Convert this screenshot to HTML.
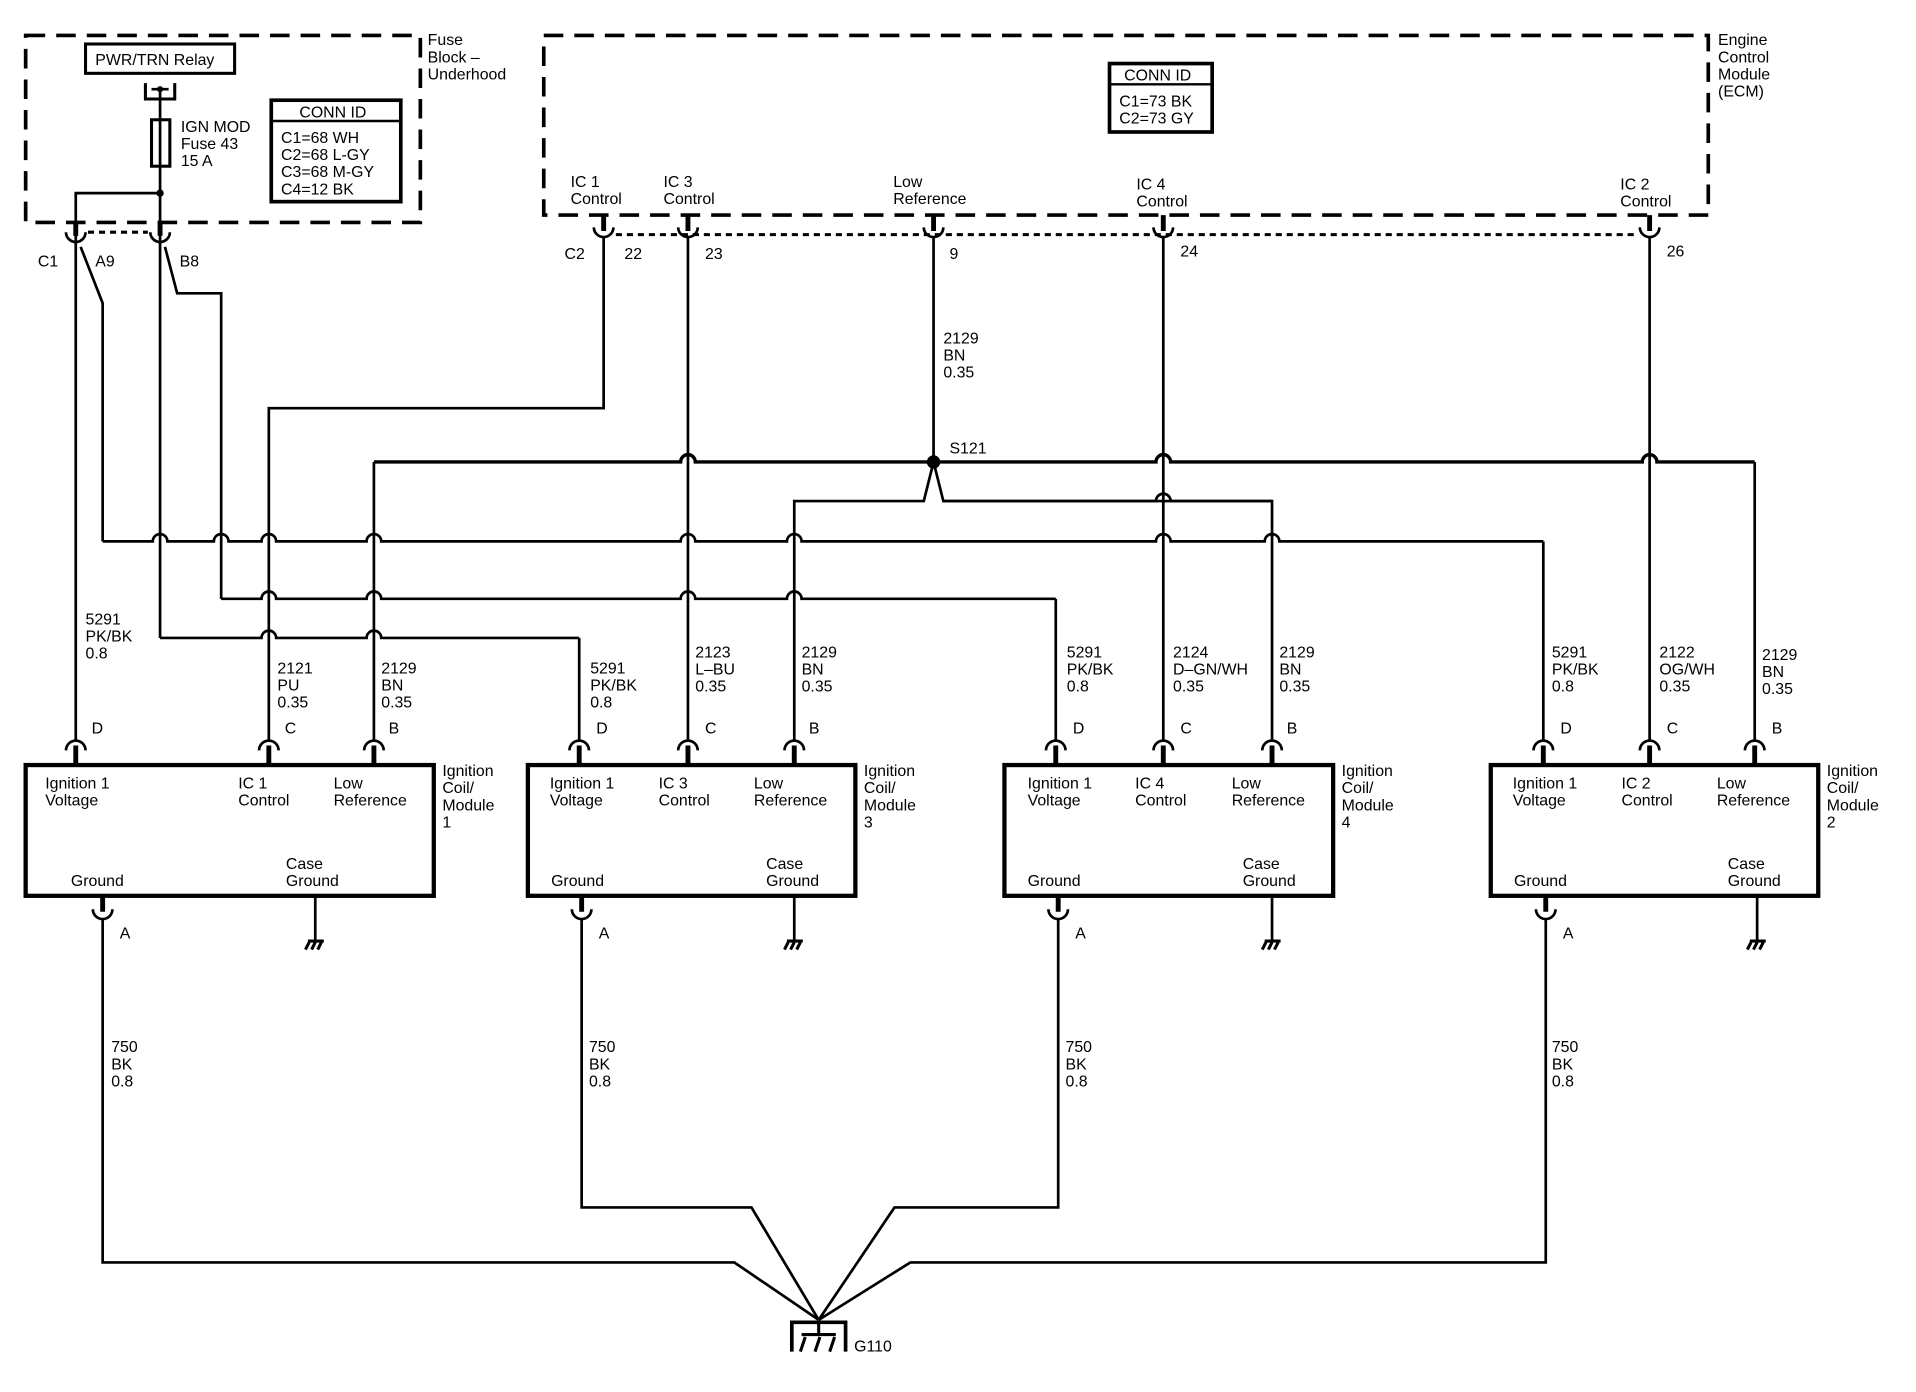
<!DOCTYPE html>
<html><head><meta charset="utf-8"><style>
html,body{margin:0;padding:0;background:#fff;}
svg{display:block;}
text{font-family:"Liberation Sans",Arial,sans-serif;font-size:13px;fill:#000;}
</style></head><body>
<svg width="1916" height="1392" viewBox="0 0 1568 1139" preserveAspectRatio="none" xmlns="http://www.w3.org/2000/svg">
<g fill="none" stroke="#000" stroke-width="2.2">
<!-- fuse block -->
<rect x="21" y="29" width="323" height="153" stroke-width="3" stroke-dasharray="16 9"/>
<rect x="70" y="36" width="122" height="24" stroke-width="2.5"/>
<path d="M119,68 V81 H143 V68" stroke-width="2.5"/>
<line x1="124" y1="73" x2="138" y2="73"/>
<rect x="124" y="98" width="15" height="38" stroke-width="2.5"/>
<path d="M131,73 V200"/>
<path d="M131,158 H62 V200"/>
<rect x="222" y="82" width="106" height="83" stroke-width="3"/>
<line x1="222" y1="99" x2="328" y2="99" stroke-width="2"/>
<!-- fuse connectors -->
<path d="M62,182 V193 M131,182 V193" stroke-width="4"/>
<path d="M54,190 A8,8 0 0 0 70,190 M123,190 A8,8 0 0 0 139,190"/>
<line x1="72" y1="190" x2="121" y2="190" stroke-width="2.5" stroke-dasharray="5 4"/>
<!-- ECM -->
<rect x="445" y="29" width="953" height="147" stroke-width="3" stroke-dasharray="16 9"/>
<rect x="908" y="52" width="84" height="56" stroke-width="3"/>
<line x1="908" y1="69" x2="992" y2="69" stroke-width="2"/>
<path d="M494,176 V189 M563,176 V189 M764,176 V189 M952,176 V189 M1350,176 V189" stroke-width="4"/>
<path d="M486,186 A8,8 0 0 0 502,186 M555,186 A8,8 0 0 0 571,186 M756,186 A8,8 0 0 0 772,186 M944,186 A8,8 0 0 0 960,186 M1342,186 A8,8 0 0 0 1358,186"/>
<line x1="504" y1="192" x2="1340" y2="192" stroke-width="2.5" stroke-dasharray="5 4"/>
<!-- vertical wires -->
<path d="M62,198 V606"/>
<path d="M66,202 L84,248 V443"/>
<path d="M131,198 V522"/>
<path d="M135,202 L145,240 H181 V490"/>
<path d="M494,194 V334 H220 V606"/>
<path d="M563,194 V606"/>
<path d="M764,194 V378"/>
<path d="M952,194 V606"/>
<path d="M1350,194 V606"/>
<path d="M306,378 V606"/>
<path d="M1436,378 V606"/>
<path d="M764,378 L756,410 H650 V606"/>
<path d="M764,378 L772,410 H1041 V606"/>
<path d="M864,490 V606"/>
<path d="M474,522 V606"/>
<path d="M1263,443 V606"/>
<!-- horizontal wires with hops -->
<path stroke-width="2.8" d="M306,378 H557 A6,6 0 0 1 569,378 H946 A6,6 0 0 1 958,378 H1344 A6,6 0 0 1 1356,378 H1436"/>
<path d="M1041,410 H958 A6,6 0 0 0 946,410 H772"/>
<path d="M84,443 H125 A6,6 0 0 1 137,443 H175 A6,6 0 0 1 187,443 H214 A6,6 0 0 1 226,443 H300 A6,6 0 0 1 312,443 H557 A6,6 0 0 1 569,443 H644 A6,6 0 0 1 656,443 H946 A6,6 0 0 1 958,443 H1035 A6,6 0 0 1 1047,443 H1263"/>
<path d="M181,490 H214 A6,6 0 0 1 226,490 H300 A6,6 0 0 1 312,490 H557 A6,6 0 0 1 569,490 H644 A6,6 0 0 1 656,490 H864"/>
<path d="M131,522 H214 A6,6 0 0 1 226,522 H300 A6,6 0 0 1 312,522 H474"/>
<!-- modules -->
<rect x="21" y="626" width="334" height="107" stroke-width="3.5"/>
<rect x="432" y="626" width="268" height="107" stroke-width="3.5"/>
<rect x="822" y="626" width="269" height="107" stroke-width="3.5"/>
<rect x="1220" y="626" width="268" height="107" stroke-width="3.5"/>
<!-- top connectors -->
<g id="tc">
<path d="M54,614 A8,8 0 0 1 70,614 M212,614 A8,8 0 0 1 228,614 M298,614 A8,8 0 0 1 314,614 M466,614 A8,8 0 0 1 482,614 M555,614 A8,8 0 0 1 571,614 M642,614 A8,8 0 0 1 658,614 M856,614 A8,8 0 0 1 872,614 M944,614 A8,8 0 0 1 960,614 M1033,614 A8,8 0 0 1 1049,614 M1255,614 A8,8 0 0 1 1271,614 M1342,614 A8,8 0 0 1 1358,614 M1428,614 A8,8 0 0 1 1444,614"/>
<path stroke-width="4" d="M62,610 V626 M220,610 V626 M306,610 V626 M474,610 V626 M563,610 V626 M650,610 V626 M864,610 V626 M952,610 V626 M1041,610 V626 M1263,610 V626 M1350,610 V626 M1436,610 V626"/>
</g>
<!-- bottom connectors -->
<path stroke-width="4" d="M84,733 V746 M476,733 V746 M866,733 V746 M1265,733 V746"/>
<path d="M76,744 A8,8 0 0 0 92,744 M468,744 A8,8 0 0 0 484,744 M858,744 A8,8 0 0 0 874,744 M1257,744 A8,8 0 0 0 1273,744"/>
<!-- ground wires -->
<path d="M84,752 V1033 H601 L670,1080"/>
<path d="M476,752 V988 H615 L670,1080"/>
<path d="M866,752 V988 H732 L670,1080"/>
<path d="M1265,752 V1033 H745 L670,1080"/>
<path stroke-width="3" d="M648,1106 V1082 H692 V1106"/>
<path d="M670,1082 V1092 M656,1092 H684 M659,1094 L655,1106 M671,1094 L667,1106 M683,1094 L679,1106" stroke-width="2.5"/>
<!-- case grounds -->
<path d="M258,733 V770 M650,733 V770 M1041,733 V770 M1438,733 V770"/>
<path stroke-width="2.5" d="M252,770 H265 M253,771 L250,777 M258,771 L255,777 M263,771 L260,777 M644,770 H657 M645,771 L642,777 M650,771 L647,777 M655,771 L652,777 M1035,770 H1048 M1036,771 L1033,777 M1041,771 L1038,777 M1046,771 L1043,777 M1432,770 H1445 M1433,771 L1430,777 M1438,771 L1435,777 M1443,771 L1440,777"/>
</g>
<circle cx="764" cy="378" r="5.5" fill="#000"/>
<circle cx="131" cy="158" r="3" fill="#000"/>
<circle cx="131" cy="73" r="2.5" fill="#000"/>
<!-- text -->
<text x="78" y="53">PWR/TRN Relay</text>
<text x="148" y="108">IGN MOD</text><text x="148" y="122">Fuse 43</text><text x="148" y="136">15 A</text>
<text x="245" y="96">CONN ID</text>
<text x="230" y="117">C1=68 WH</text><text x="230" y="131">C2=68 L-GY</text><text x="230" y="145">C3=68 M-GY</text><text x="230" y="159">C4=12 BK</text>
<text x="350" y="37">Fuse</text><text x="350" y="51">Block –</text><text x="350" y="65">Underhood</text>
<text x="31" y="218">C1</text><text x="78" y="218">A9</text><text x="147" y="218">B8</text>
<text x="920" y="66">CONN ID</text><text x="916" y="87">C1=73 BK</text><text x="916" y="101">C2=73 GY</text>
<text x="1406" y="37">Engine</text><text x="1406" y="51">Control</text><text x="1406" y="65">Module</text><text x="1406" y="79">(ECM)</text>
<text x="467" y="153">IC 1</text><text x="467" y="167">Control</text>
<text x="543" y="153">IC 3</text><text x="543" y="167">Control</text>
<text x="731" y="153">Low</text><text x="731" y="167">Reference</text>
<text x="930" y="155">IC 4</text><text x="930" y="169">Control</text>
<text x="1326" y="155">IC 2</text><text x="1326" y="169">Control</text>
<text x="462" y="212">C2</text><text x="511" y="212">22</text><text x="577" y="212">23</text><text x="777" y="212">9</text><text x="966" y="210">24</text><text x="1364" y="210">26</text>
<text x="772" y="281">2129</text><text x="772" y="295">BN</text><text x="772" y="309">0.35</text>
<text x="777" y="371">S121</text>
<!-- wire labels -->
<text x="70" y="511">5291</text><text x="70" y="525">PK/BK</text><text x="70" y="539">0.8</text>
<text x="227" y="551">2121</text><text x="227" y="565">PU</text><text x="227" y="579">0.35</text>
<text x="312" y="551">2129</text><text x="312" y="565">BN</text><text x="312" y="579">0.35</text>
<text x="483" y="551">5291</text><text x="483" y="565">PK/BK</text><text x="483" y="579">0.8</text>
<text x="569" y="538">2123</text><text x="569" y="552">L–BU</text><text x="569" y="566">0.35</text>
<text x="656" y="538">2129</text><text x="656" y="552">BN</text><text x="656" y="566">0.35</text>
<text x="873" y="538">5291</text><text x="873" y="552">PK/BK</text><text x="873" y="566">0.8</text>
<text x="960" y="538">2124</text><text x="960" y="552">D–GN/WH</text><text x="960" y="566">0.35</text>
<text x="1047" y="538">2129</text><text x="1047" y="552">BN</text><text x="1047" y="566">0.35</text>
<text x="1270" y="538">5291</text><text x="1270" y="552">PK/BK</text><text x="1270" y="566">0.8</text>
<text x="1358" y="538">2122</text><text x="1358" y="552">OG/WH</text><text x="1358" y="566">0.35</text>
<text x="1442" y="540">2129</text><text x="1442" y="554">BN</text><text x="1442" y="568">0.35</text>
<!-- pin letters -->
<text x="75" y="600">D</text><text x="233" y="600">C</text><text x="318" y="600">B</text>
<text x="488" y="600">D</text><text x="577" y="600">C</text><text x="662" y="600">B</text>
<text x="878" y="600">D</text><text x="966" y="600">C</text><text x="1053" y="600">B</text>
<text x="1277" y="600">D</text><text x="1364" y="600">C</text><text x="1450" y="600">B</text>
<text x="98" y="768">A</text><text x="490" y="768">A</text><text x="880" y="768">A</text><text x="1279" y="768">A</text>
<!-- module 1 -->
<text x="37" y="645">Ignition 1</text><text x="37" y="659">Voltage</text>
<text x="195" y="645">IC 1</text><text x="195" y="659">Control</text>
<text x="273" y="645">Low</text><text x="273" y="659">Reference</text>
<text x="58" y="725">Ground</text><text x="234" y="711">Case</text><text x="234" y="725">Ground</text>
<text x="362" y="635">Ignition</text><text x="362" y="649">Coil/</text><text x="362" y="663">Module</text><text x="362" y="677">1</text>
<!-- module 3 -->
<text x="450" y="645">Ignition 1</text><text x="450" y="659">Voltage</text>
<text x="539" y="645">IC 3</text><text x="539" y="659">Control</text>
<text x="617" y="645">Low</text><text x="617" y="659">Reference</text>
<text x="451" y="725">Ground</text><text x="627" y="711">Case</text><text x="627" y="725">Ground</text>
<text x="707" y="635">Ignition</text><text x="707" y="649">Coil/</text><text x="707" y="663">Module</text><text x="707" y="677">3</text>
<!-- module 4 -->
<text x="841" y="645">Ignition 1</text><text x="841" y="659">Voltage</text>
<text x="929" y="645">IC 4</text><text x="929" y="659">Control</text>
<text x="1008" y="645">Low</text><text x="1008" y="659">Reference</text>
<text x="841" y="725">Ground</text><text x="1017" y="711">Case</text><text x="1017" y="725">Ground</text>
<text x="1098" y="635">Ignition</text><text x="1098" y="649">Coil/</text><text x="1098" y="663">Module</text><text x="1098" y="677">4</text>
<!-- module 2 -->
<text x="1238" y="645">Ignition 1</text><text x="1238" y="659">Voltage</text>
<text x="1327" y="645">IC 2</text><text x="1327" y="659">Control</text>
<text x="1405" y="645">Low</text><text x="1405" y="659">Reference</text>
<text x="1239" y="725">Ground</text><text x="1414" y="711">Case</text><text x="1414" y="725">Ground</text>
<text x="1495" y="635">Ignition</text><text x="1495" y="649">Coil/</text><text x="1495" y="663">Module</text><text x="1495" y="677">2</text>
<!-- ground labels -->
<text x="91" y="861">750</text><text x="91" y="875">BK</text><text x="91" y="889">0.8</text>
<text x="482" y="861">750</text><text x="482" y="875">BK</text><text x="482" y="889">0.8</text>
<text x="872" y="861">750</text><text x="872" y="875">BK</text><text x="872" y="889">0.8</text>
<text x="1270" y="861">750</text><text x="1270" y="875">BK</text><text x="1270" y="889">0.8</text>
<text x="699" y="1106">G110</text>
</svg>
</body></html>
